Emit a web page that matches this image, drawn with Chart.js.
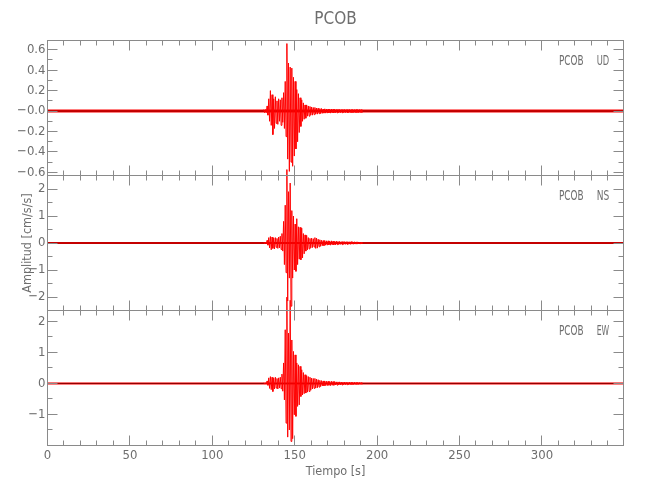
<!DOCTYPE html>
<html>
<head>
<meta charset="utf-8">
<script src="https://cdn.jsdelivr.net/npm/chart.js@4.4.1/dist/chart.umd.min.js"></script>
<style>
html,body{margin:0;padding:0;background:#fff;}
#wrap{position:relative;width:650px;height:500px;}
</style>
</head>
<body>
<div id="wrap"><canvas id="c" width="650" height="500"></canvas></div>
<script>
// ---------------- data ----------------
const chartTitle = 'PCOB';
const xTitle = 'Tiempo [s]';
const yTitle = 'Amplitud [cm/s/s]';
const stationName = 'PCOB';
const componentNames = ['UD', 'NS', 'EW'];

const xRange = [0, 349.5];
const xMajorTicks = [0, 50, 100, 150, 200, 250, 300];
const xMinorTicks = [10, 20, 30, 40, 60, 70, 80, 90, 110, 120, 130, 140, 160, 170, 180, 190,
  210, 220, 230, 240, 260, 270, 280, 290, 310, 320, 330, 340];

const udRange = [-0.63, 0.69];
const udMajorTicks = [-0.6, -0.4, -0.2, 0, 0.2, 0.4, 0.6];
const udTickLabels = ['\u22120.6', '\u22120.4', '\u22120.2', '\u22120.0', '0.2', '0.4', '0.6'];
const udMinorTicks = [-0.5, -0.3, -0.1, 0.1, 0.3, 0.5];

const nsRange = [-2.5, 2.5];
const nsMajorTicks = [-2, -1, 0, 1, 2];
const nsTickLabels = ['\u22122', '\u22121', '0', '1', '2'];
const nsMinorTicks = [-1.5, -0.5, 0.5, 1.5];

const ewRange = [-2.0, 2.35];
const ewMajorTicks = [-1, 0, 1, 2];
const ewTickLabels = ['\u22121', '0', '1', '2'];
const ewMinorTicks = [-1.5, -0.5, 0.5, 1.5];

// one-second bins of the strong-motion part (start time of each bin, s)
const eventTimes = [131,132,133,134,135,136,137,138,139,140,
  141,142,143,144,145,146,147,148,149,150,
  151,152,153,154,155,156,157,158,159,160,
  161,162,163,164,165,166,167,168,169,170,
  171,172,173,174,175,176,177,178,179,180,
  181,182,183,184,185,186,187,188,189,190];

// UD: per-bin maximum and minimum of the trace
const udHigh = [0.015,0.015,0.05,0.12,0.20,0.16,0.12,0.14,0.10,0.12,
  0.11,0.13,0.18,0.29,0.66,0.47,0.43,0.42,0.33,0.29,
  0.21,0.17,0.13,0.11,0.08,0.06,0.06,0.05,0.045,0.04,
  0.035,0.035,0.03,0.03,0.025,0.025,0.02,0.022,0.02,0.02,
  0.018,0.02,0.018,0.018,0.016,0.018,0.016,0.015,0.016,0.015,
  0.015,0.016,0.015,0.014,0.015,0.014,0.015,0.014,0.015,0.014];
const udLow = [-0.015,-0.015,-0.04,-0.10,-0.14,-0.23,-0.17,-0.12,-0.13,-0.10,
  -0.14,-0.11,-0.17,-0.25,-0.47,-0.59,-0.50,-0.54,-0.44,-0.37,
  -0.30,-0.21,-0.15,-0.10,-0.08,-0.07,-0.05,-0.05,-0.04,-0.04,
  -0.035,-0.03,-0.03,-0.025,-0.025,-0.022,-0.02,-0.02,-0.02,-0.018,
  -0.02,-0.018,-0.018,-0.016,-0.017,-0.016,-0.015,-0.016,-0.015,-0.015,
  -0.014,-0.015,-0.014,-0.015,-0.014,-0.015,-0.014,-0.014,-0.014,-0.014];

// NS
const nsHigh = [0.03,0.03,0.10,0.20,0.24,0.22,0.18,0.20,0.17,0.22,
  0.25,0.35,0.80,1.40,2.72,1.90,2.22,1.20,1.00,0.70,
  0.90,0.60,0.58,0.55,0.35,0.30,0.28,0.20,0.17,0.18,
  0.16,0.20,0.18,0.14,0.12,0.10,0.09,0.09,0.08,0.08,
  0.07,0.08,0.07,0.06,0.07,0.06,0.06,0.05,0.06,0.05,
  0.05,0.05,0.045,0.05,0.04,0.045,0.04,0.04,0.035,0.035];
const nsLow = [-0.03,-0.03,-0.08,-0.18,-0.25,-0.20,-0.22,-0.16,-0.20,-0.18,
  -0.24,-0.30,-0.80,-1.10,-2.15,-1.30,-2.34,-1.30,-1.00,-1.05,
  -0.80,-0.60,-0.62,-0.55,-0.40,-0.30,-0.25,-0.22,-0.18,-0.17,
  -0.15,-0.20,-0.19,-0.14,-0.12,-0.10,-0.10,-0.08,-0.08,-0.07,
  -0.08,-0.07,-0.07,-0.07,-0.06,-0.06,-0.05,-0.06,-0.05,-0.05,
  -0.05,-0.045,-0.05,-0.04,-0.045,-0.04,-0.04,-0.035,-0.04,-0.035];

// EW
const ewHigh = [0.02,0.02,0.08,0.18,0.22,0.20,0.17,0.20,0.16,0.18,
  0.20,0.30,0.66,1.73,2.78,1.62,2.68,1.40,1.03,0.92,
  0.66,0.60,0.55,0.44,0.35,0.28,0.25,0.22,0.20,0.17,
  0.16,0.16,0.14,0.12,0.10,0.09,0.08,0.08,0.07,0.07,
  0.06,0.07,0.06,0.06,0.05,0.05,0.05,0.045,0.04,0.045,
  0.04,0.035,0.04,0.035,0.03,0.035,0.03,0.03,0.03,0.025];
const ewLow = [-0.02,-0.02,-0.06,-0.16,-0.20,-0.26,-0.18,-0.15,-0.18,-0.15,
  -0.17,-0.25,-0.53,-1.28,-1.73,-1.50,-1.87,-1.78,-1.01,-1.06,
  -0.74,-0.69,-0.42,-0.37,-0.33,-0.31,-0.28,-0.26,-0.22,-0.18,
  -0.16,-0.15,-0.14,-0.12,-0.10,-0.08,-0.08,-0.07,-0.07,-0.06,
  -0.07,-0.06,-0.06,-0.05,-0.055,-0.05,-0.045,-0.05,-0.04,-0.04,
  -0.04,-0.04,-0.035,-0.035,-0.035,-0.03,-0.03,-0.03,-0.025,-0.025];

// ---------------- styling ----------------
function pickFont(cands) {
  const c = document.createElement('canvas').getContext('2d');
  const probe = 'PCOB Amplitud 0123456789';
  for (const f of cands) {
    let ok = false;
    for (const fb of ['monospace', 'serif']) {
      c.font = '20px ' + fb; const w0 = c.measureText(probe).width;
      c.font = "20px '" + f + "', " + fb; const w1 = c.measureText(probe).width;
      if (Math.abs(w1 - w0) > 0.5) ok = true;
    }
    if (ok) return "'" + f + "', sans-serif";
  }
  return 'sans-serif';
}
const FONT = pickFont(['Liberation Sans Narrow', 'DejaVu Sans Condensed', 'Liberation Sans', 'DejaVu Sans']);
const textColor = '#6e6e6e';
const frameColor = '#8a8a8a';
const traceColor = '#ff0000';
const zeroColor = '#8a0000';

Chart.defaults.font.family = FONT;
Chart.defaults.color = textColor;

// trace drawn as max/min within each bin
function traceFrom(times, hi, lo) {
  const pts = [];
  times.forEach((t, i) => {
    pts.push({x: t + 0.25, y: hi[i]});
    pts.push({x: t + 0.75, y: lo[i]});
  });
  return pts;
}
const baseline = [{x: xRange[0], y: 0}, {x: xRange[1], y: 0}];

const panels = [
  {id: 'yUD', name: componentNames[0], range: udRange, major: udMajorTicks, labels: udTickLabels, minor: udMinorTicks, weight: 3},
  {id: 'yNS', name: componentNames[1], range: nsRange, major: nsMajorTicks, labels: nsTickLabels, minor: nsMinorTicks, weight: 2},
  {id: 'yEW', name: componentNames[2], range: ewRange, major: ewMajorTicks, labels: ewTickLabels, minor: ewMinorTicks, weight: 1}
];

const scales = {
  x: {
    type: 'linear', position: 'bottom', min: xRange[0], max: xRange[1],
    afterBuildTicks: s => { s.ticks = xMajorTicks.map(v => ({value: v})); },
    afterFit: s => { s.height = 54.5; },
    ticks: {autoSkip: false, maxRotation: 0, padding: 2, color: textColor, font: {size: 13}, callback: v => String(v)},
    grid: {display: false, drawTicks: false},
    border: {display: false},
    title: {display: true, text: xTitle, color: textColor, font: {size: 12.5}, padding: {top: 0, bottom: 21}}
  }
};
panels.forEach(p => {
  scales[p.id] = {
    type: 'linear', position: 'left', stack: 'panels', stackWeight: 1, weight: p.weight,
    min: p.range[0], max: p.range[1],
    afterBuildTicks: s => { s.ticks = p.major.map(v => ({value: v})); },
    afterFit: s => { s.width = 47.5; },
    ticks: {autoSkip: false, padding: 2, color: textColor, font: {size: 13},
      callback: v => p.labels[p.major.indexOf(v)]},
    grid: {display: false, drawTicks: false},
    border: {display: false},
    title: {display: p.id === 'yNS', text: yTitle, color: textColor, font: {size: 12.5}, padding: {top: 20, bottom: 0}}
  };
});

const datasets = [
  {label: 'UD', yAxisID: 'yUD', data: traceFrom(eventTimes, udHigh, udLow), order: 0},
  {label: 'NS', yAxisID: 'yNS', data: traceFrom(eventTimes, nsHigh, nsLow), order: 0, clip: false},
  {label: 'EW', yAxisID: 'yEW', data: traceFrom(eventTimes, ewHigh, ewLow), order: 0, clip: false}
].map(d => Object.assign({borderColor: traceColor, borderWidth: 1, pointRadius: 0, tension: 0, fill: false}, d));

panels.forEach((p, i) => {
  datasets.push({label: p.name + ' zero', yAxisID: p.id, data: baseline, borderColor: zeroColor, borderWidth: 1, pointRadius: 0, order: 1});
  datasets.push({label: p.name + ' noise', yAxisID: p.id, data: baseline, borderColor: traceColor, borderWidth: i === 0 ? 3 : 2, pointRadius: 0, order: 2});
});

// draws text squeezed horizontally so that it takes the given width
function fitText(ctx, text, x, y, targetWidth) {
  const w = ctx.measureText(text).width;
  const sx = Math.min(1, targetWidth / w);
  ctx.save();
  ctx.translate(x, y);
  ctx.scale(sx, 1);
  ctx.fillText(text, 0, 0);
  ctx.restore();
}

const framePlugin = {
  id: 'framesAndTicks',
  afterDraw(chart) {
    const ctx = chart.ctx;
    const xs = chart.scales.x;
    const L = chart.chartArea.left, R = chart.chartArea.right;
    ctx.save();
    ctx.strokeStyle = frameColor;
    ctx.lineWidth = 1;
    panels.forEach(p => {
      const s = chart.scales[p.id];
      const T = s.top, B = s.bottom;
      ctx.strokeRect(L, T, R - L, B - T);
      ctx.beginPath();
      const vx = (v, len) => {
        const px = Math.floor(xs.getPixelForValue(v)) + 0.5;
        ctx.moveTo(px, B); ctx.lineTo(px, B - len);
        ctx.moveTo(px, T); ctx.lineTo(px, T + len);
      };
      const hy = (v, len) => {
        const py = Math.floor(s.getPixelForValue(v)) + 0.5;
        ctx.moveTo(L, py); ctx.lineTo(L + len, py);
        ctx.moveTo(R, py); ctx.lineTo(R - len, py);
      };
      xMajorTicks.forEach(v => vx(v, 10));
      xMinorTicks.forEach(v => vx(v, 5));
      p.major.forEach(v => hy(v, 10));
      p.minor.forEach(v => hy(v, 5));
      ctx.stroke();
      // station / component label
      ctx.fillStyle = textColor;
      ctx.font = '14px ' + FONT;
      ctx.textBaseline = 'middle';
      ctx.textAlign = 'left';
      fitText(ctx, stationName, R - 64.5, T + 21, 24.5);
      fitText(ctx, p.name, R - 26.8, T + 21, 12.5);
    });
    ctx.restore();
  }
};

new Chart(document.getElementById('c'), {
  type: 'line',
  data: {datasets},
  options: {
    responsive: false,
    devicePixelRatio: 1,
    animation: false,
    parsing: false,
    normalized: true,
    layout: {padding: {left: 0, right: 26.5, top: 0, bottom: 0}},
    plugins: {
      legend: {display: false},
      tooltip: {enabled: false},
      title: {display: true, text: chartTitle, fullSize: false, color: textColor,
        font: {size: 17, weight: 'normal'}, padding: {top: 9.5, bottom: 10.6}}
    },
    scales
  },
  plugins: [framePlugin]
});
</script>
</body>
</html>
